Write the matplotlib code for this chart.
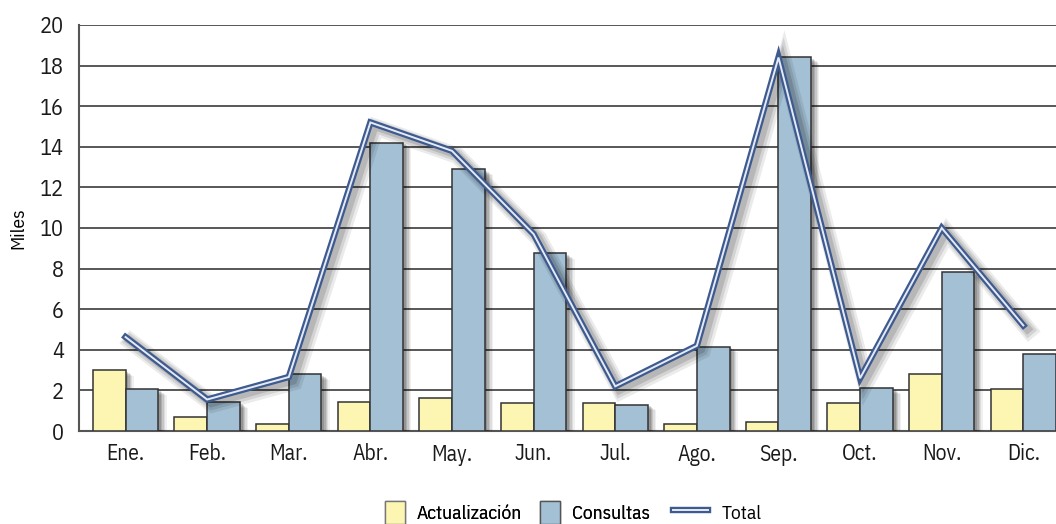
import numpy as np
import matplotlib
matplotlib.use("Agg")
import matplotlib.pyplot as plt
import matplotlib.patheffects as pe
from matplotlib.lines import Line2D
from matplotlib.patches import Patch

# ---- data (thousands) ----
months = ["Ene.", "Feb.", "Mar.", "Abr.", "May.", "Jun.",
          "Jul.", "Ago.", "Sep.", "Oct.", "Nov.", "Dic."]
actualizacion = [3.0, 0.7, 0.33, 1.43, 1.63, 1.4, 1.4, 0.33, 0.43, 1.37, 2.8, 2.07]
consultas = [2.07, 1.43, 2.8, 14.2, 12.9, 8.75, 1.3, 4.15, 18.4, 2.1, 7.85, 3.8]
total = [4.63, 1.55, 2.66, 15.2, 13.8, 9.7, 2.2, 4.2, 18.4, 2.6, 10.0, 5.2]
yticks = list(range(0, 21, 2))

plt.rcParams["font.family"] = ["IBM Plex Sans Condensed", "DejaVu Sans"]

YELLOW = "#fdf5b2"
BLUE = "#a3c0d4"
EDGE = "#333333"
LINE = "#3e5a8e"
LINE_IN = "#e4ebf7"

W, H = 1056, 524
fig = plt.figure(figsize=(W / 100, H / 100), dpi=100)
ax = fig.add_axes([79 / W, 93 / H, 1 - 79 / W, 406 / H])

x = np.arange(len(months))
w = 0.40

# soft drop shadow built from a few offset layers
shadow = [
    pe.SimplePatchShadow(offset=(6.0, -4.0), shadow_rgbFace="#000000", alpha=0.06),
    pe.SimplePatchShadow(offset=(5.0, -3.3), shadow_rgbFace="#000000", alpha=0.08),
    pe.SimplePatchShadow(offset=(4.0, -2.6), shadow_rgbFace="#000000", alpha=0.10),
    pe.SimplePatchShadow(offset=(3.0, -1.9), shadow_rgbFace="#000000", alpha=0.12),
    pe.SimplePatchShadow(offset=(2.0, -1.2), shadow_rgbFace="#000000", alpha=0.14),
    pe.Normal(),
]

ax.bar(x - w / 2, actualizacion, w, color=YELLOW, edgecolor=EDGE,
       linewidth=1.1, zorder=3, path_effects=shadow)
ax.bar(x + w / 2, consultas, w, color=BLUE, edgecolor=EDGE,
       linewidth=1.1, zorder=3, path_effects=shadow)

# total as a double line with a soft shadow
line_shadow = [
    pe.SimpleLineShadow(offset=(4.0, -3.5), shadow_color="#000000", alpha=0.08, linewidth=12),
    pe.SimpleLineShadow(offset=(3.5, -3.0), shadow_color="#000000", alpha=0.10, linewidth=9),
    pe.SimpleLineShadow(offset=(3.0, -2.5), shadow_color="#000000", alpha=0.13, linewidth=6),
    pe.Normal(),
]
ax.plot(x, total, color=LINE, lw=4.6, solid_joinstyle="miter", zorder=4,
        path_effects=line_shadow)
ax.plot(x, total, color=LINE_IN, lw=1.4, solid_joinstyle="miter", zorder=5)

ax.set_xlim(-0.57, 11.4)
ax.set_ylim(0, 20)
ax.set_yticks(yticks)
ax.set_xticks(x)
ax.set_xticklabels(months, fontsize=15.5)
ax.yaxis.grid(True, color="#4a4a4a", linewidth=1.3, zorder=0)
ax.set_axisbelow(True)
ax.tick_params(axis="both", length=0, colors="#1a1a1a")
ax.tick_params(axis="y", pad=11, labelsize=16)
ax.tick_params(axis="x", pad=9)
for side in ["top", "right"]:
    ax.spines[side].set_visible(False)
for side in ["left", "bottom"]:
    ax.spines[side].set_color("#555555")
    ax.spines[side].set_linewidth(1.5)

ax.set_ylabel("Miles", fontsize=14, labelpad=9)

# legend: bars and line are laid out as two groups
fs = 14
px = fs * 100 / 72
bar_handles = [
    Patch(facecolor=YELLOW, edgecolor="#777777"),
    Patch(facecolor=BLUE, edgecolor="#555555"),
]
leg1 = fig.legend(bar_handles, ["Actualización", "Consultas"], loc="lower left",
                  bbox_to_anchor=(385 / W, 0.0), ncol=2, frameon=False, fontsize=fs,
                  borderpad=0, borderaxespad=0, handlelength=20 / px,
                  handleheight=28 / px, handletextpad=12 / px, columnspacing=18 / px)
line_handle = (Line2D([], [], color=LINE, lw=4.6), Line2D([], [], color=LINE_IN, lw=1.4))
fig.legend([line_handle], ["Total"], loc="lower left",
           bbox_to_anchor=(673 / W, 0.0), frameon=False, fontsize=fs,
           borderpad=0, borderaxespad=0, handlelength=35 / px,
           handleheight=28 / px, handletextpad=14 / px)
fig.add_artist(leg1)

fig.savefig("out.png", dpi=100)
